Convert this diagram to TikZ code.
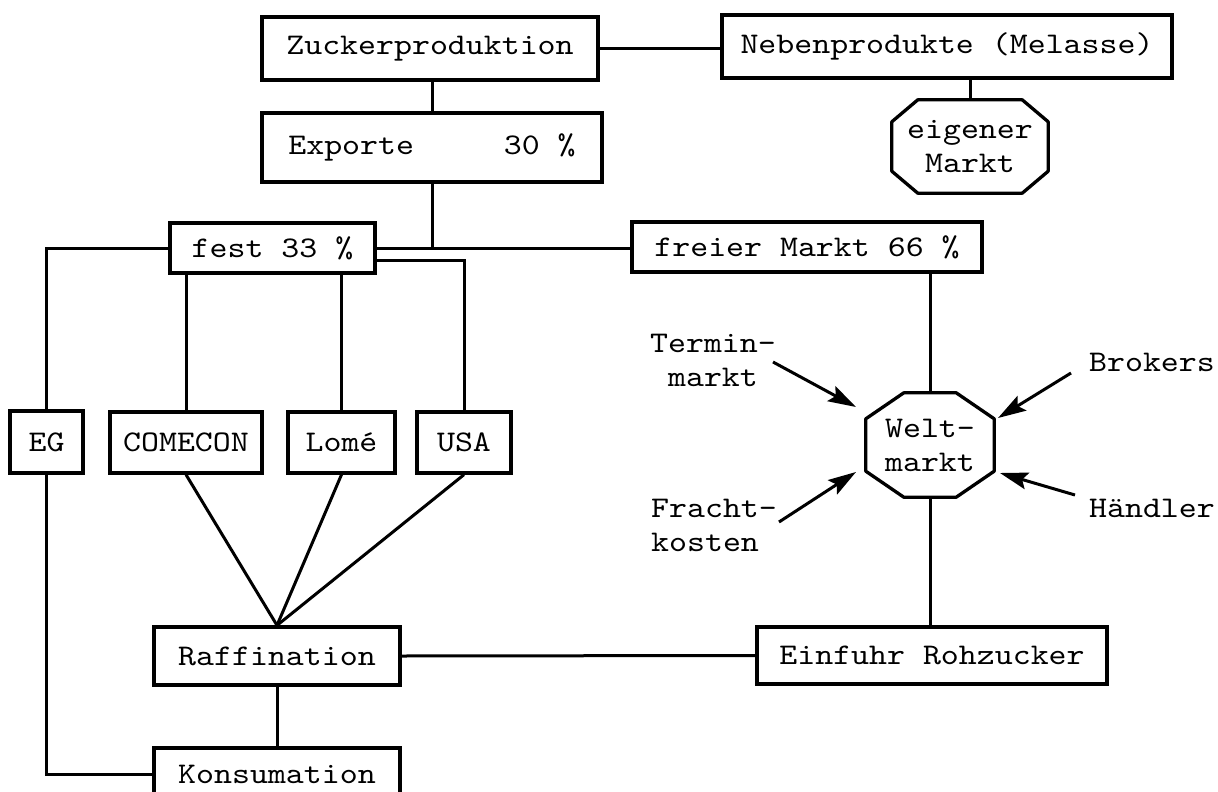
\documentclass[tikz,border=0pt]{standalone}
\usepackage{fontspec}
\newfontfamily\tw[FakeStretch=1.14]{lmmono10-regular.otf}
\usetikzlibrary{calc,arrows.meta}
\begin{document}
\begin{tikzpicture}[x=1pt,y=-1pt,
  every node/.style={font=\tw\fontsize{30}{34}\selectfont, inner sep=0pt},
  box/.style={draw, line width=3.3pt, rectangle},
  oct/.style={line width=3.3pt, line join=round},
  conn/.style={line width=3pt},
  arr/.style={line width=3pt, -{Stealth[length=28pt,width=17pt,inset=5pt]}},
  lbl/.style={align=center}
]
\useasboundingbox (0,0) rectangle (1218,792);

% boxes
\node[box, minimum width=336pt, minimum height=63pt] (zuck) at (430,48.5) {Zuckerproduktion};
\node[box, minimum width=450pt, minimum height=63pt] (neben) at (947,46.5) {Nebenprodukte (Melasse)};
\node[box, minimum width=340pt, minimum height=69pt] (exp) at (432,147.5) {Exporte\ \ \ \ \ 30 \%};
\node[box, minimum width=205pt, minimum height=50pt] (fest) at (272.5,248) {fest 33 \%};
\node[box, minimum width=350pt, minimum height=50pt] (frei) at (807,247) {freier Markt 66 \%};
\node[box, minimum width=73pt, minimum height=62pt] (eg) at (46.5,442) {EG};
\node[box, minimum width=152pt, minimum height=61pt] (com) at (186,442.5) {COMECON};
\node[box, minimum width=107pt, minimum height=61pt] (lome) at (341.5,442.5) {Lomé};
\node[box, minimum width=94pt, minimum height=61pt] (usa) at (464,442.5) {USA};
\node[box, minimum width=246pt, minimum height=58pt] (raff) at (277,656) {Raffination};
\node[box, minimum width=246pt, minimum height=52pt] (kons) at (277,774) {Konsumation};
\node[box, minimum width=350pt, minimum height=57pt] (einf) at (932,655.5) {Einfuhr Rohzucker};

% octagons
\node[lbl, minimum width=128pt, minimum height=104pt] (welt) at (930,445) {Welt-\\markt};
\draw[oct] ($(welt.north west)+(38,0)$) -- ($(welt.north east)+(-38,0)$) -- ($(welt.north east)+(0,26)$) -- ($(welt.south east)+(0,-26)$) -- ($(welt.south east)+(-38,0)$) -- ($(welt.south west)+(38,0)$) -- ($(welt.south west)+(0,-26)$) -- ($(welt.north west)+(0,26)$) -- cycle;
\node[lbl, minimum width=156pt, minimum height=93pt] (eig) at (970,146.5) {eigener\\Markt};
\draw[oct] ($(eig.north west)+(26,0)$) -- ($(eig.north east)+(-26,0)$) -- ($(eig.north east)+(0,22)$) -- ($(eig.south east)+(0,-22)$) -- ($(eig.south east)+(-26,0)$) -- ($(eig.south west)+(26,0)$) -- ($(eig.south west)+(0,-22)$) -- ($(eig.north west)+(0,22)$) -- cycle;

% labels around Weltmarkt
\node[lbl] (term) at (713,360) {Termin-\\markt};
\node (brok) at (1152,362) {Brokers};
\node (haend) at (1152,508) {Händler};
\node[align=left, anchor=west] (fracht) at (651,525) {Fracht-\\kosten};
\coordinate (termS) at (773,362);
\coordinate (termE) at (856,407);
\coordinate (brokS) at (1071,373);
\coordinate (brokE) at (998,418);
\coordinate (haendS) at (1075,495);
\coordinate (haendE) at (1000,473);
\coordinate (frachtS) at (779,522);
\coordinate (frachtE) at (856,472);

% connectors
\draw[conn] (zuck.east) -- (neben.west |- zuck.east);
\draw[conn] (eig.north) -- (eig.north |- neben.south);
\draw[conn] (exp.north) -- (exp.north |- zuck.south);
\draw[conn] (exp.south) -- (exp.south |- fest.east);
\draw[conn] (fest.east) -- (frei.west |- fest.east);
\draw[conn] ($(fest.east)+(0,12)$) -| (usa.north);
\draw[conn] (fest.west) -| (eg.north);
\draw[conn] (com.north) -- (com.north |- fest.south);
\draw[conn] (lome.north) -- (lome.north |- fest.south);
\draw[conn] (eg.south) |- (kons.west);
\draw[conn] (com.south) -- (raff.north);
\draw[conn] (lome.south) -- (raff.north);
\draw[conn] (usa.south) -- (raff.north);
\draw[conn] (raff.south) -- (kons.north);
\draw[conn] (raff.east) -- (einf.west);
\draw[conn] (welt.north) -- (welt.north |- frei.south);
\draw[conn] (welt.south) -- (welt.south |- einf.north);

% arrows
\draw[arr] (termS) -- (termE);
\draw[arr] (brokS) -- (brokE);
\draw[arr] (haendS) -- (haendE);
\draw[arr] (frachtS) -- (frachtE);
\end{tikzpicture}
\end{document}
